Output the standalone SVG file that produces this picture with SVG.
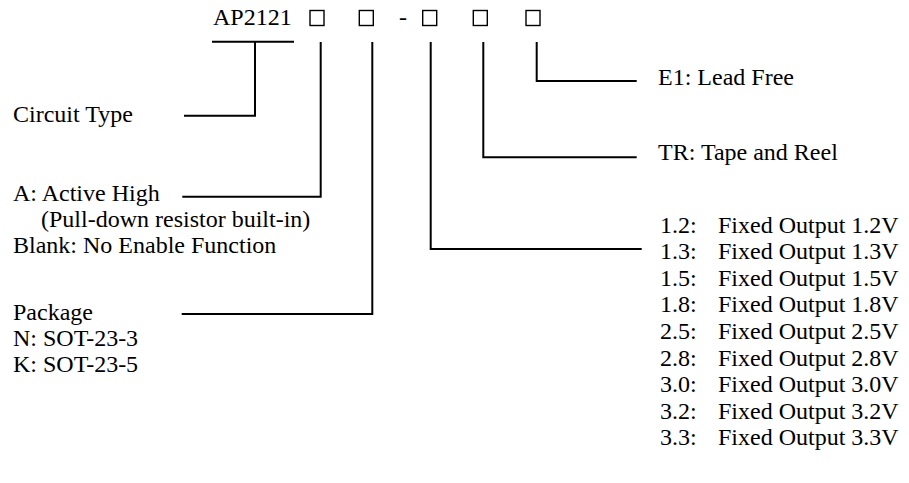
<svg xmlns="http://www.w3.org/2000/svg" width="909" height="483" viewBox="0 0 909 483">
<style>
text{font-family:'Liberation Serif','Tinos','Times New Roman','DejaVu Serif',serif;font-size:24px;fill:#000}
.ln{fill:none;stroke:#000;stroke-width:2}
.bx{fill:none;stroke:#000;stroke-width:1.4}
</style>
<rect width="909" height="483" fill="#fff"/>
<g id="part-number">
<text x="213" y="25" font-family="Liberation Serif, DejaVu Serif, serif">AP2121</text>
<rect class="bx" x="310" y="10.5" width="14" height="15"/>
<rect class="bx" x="359.3" y="10.5" width="14" height="15"/>
<text x="399" y="25">-</text>
<rect class="bx" x="422.7" y="10.5" width="14" height="15"/>
<rect class="bx" x="473.3" y="10.5" width="14" height="15"/>
<rect class="bx" x="526" y="10.5" width="14" height="15"/>
</g>
<g id="connectors">
<path class="ln" d="M212 41.7H294M255 41.7V115.7H184"/>
<path class="ln" d="M320.7 42V196.7H182.3"/>
<path class="ln" d="M372.3 42V314H181.7"/>
<path class="ln" d="M430.7 42V249H641.7"/>
<path class="ln" d="M483.3 42V157.3H636.7"/>
<path class="ln" d="M536.7 42V81H636.7"/>
</g>
<g id="circuit-type"><text x="13" y="121.5">Circuit Type</text></g>
<g id="enable">
<text x="13" y="201">A: Active High</text>
<text x="41" y="227">(Pull-down resistor built-in)</text>
<text x="13" y="253">Blank: No Enable Function</text>
</g>
<g id="package">
<text x="13" y="320">Package</text>
<text x="13" y="346">N: SOT-23-3</text>
<text x="13" y="372">K: SOT-23-5</text>
</g>
<g id="lead-free"><text x="658" y="85">E1: Lead Free</text></g>
<g id="packing"><text x="658" y="160">TR: Tape and Reel</text></g>
<g id="output-voltage">
<text x="660" y="232.5">1.2:<tspan x="718">Fixed Output 1.2V</tspan></text>
<text x="660" y="259.1">1.3:<tspan x="718">Fixed Output 1.3V</tspan></text>
<text x="660" y="285.7">1.5:<tspan x="718">Fixed Output 1.5V</tspan></text>
<text x="660" y="312.3">1.8:<tspan x="718">Fixed Output 1.8V</tspan></text>
<text x="660" y="338.9">2.5:<tspan x="718">Fixed Output 2.5V</tspan></text>
<text x="660" y="365.5">2.8:<tspan x="718">Fixed Output 2.8V</tspan></text>
<text x="660" y="392.1">3.0:<tspan x="718">Fixed Output 3.0V</tspan></text>
<text x="660" y="418.7">3.2:<tspan x="718">Fixed Output 3.2V</tspan></text>
<text x="660" y="445.3">3.3:<tspan x="718">Fixed Output 3.3V</tspan></text>
</g>
</svg>
